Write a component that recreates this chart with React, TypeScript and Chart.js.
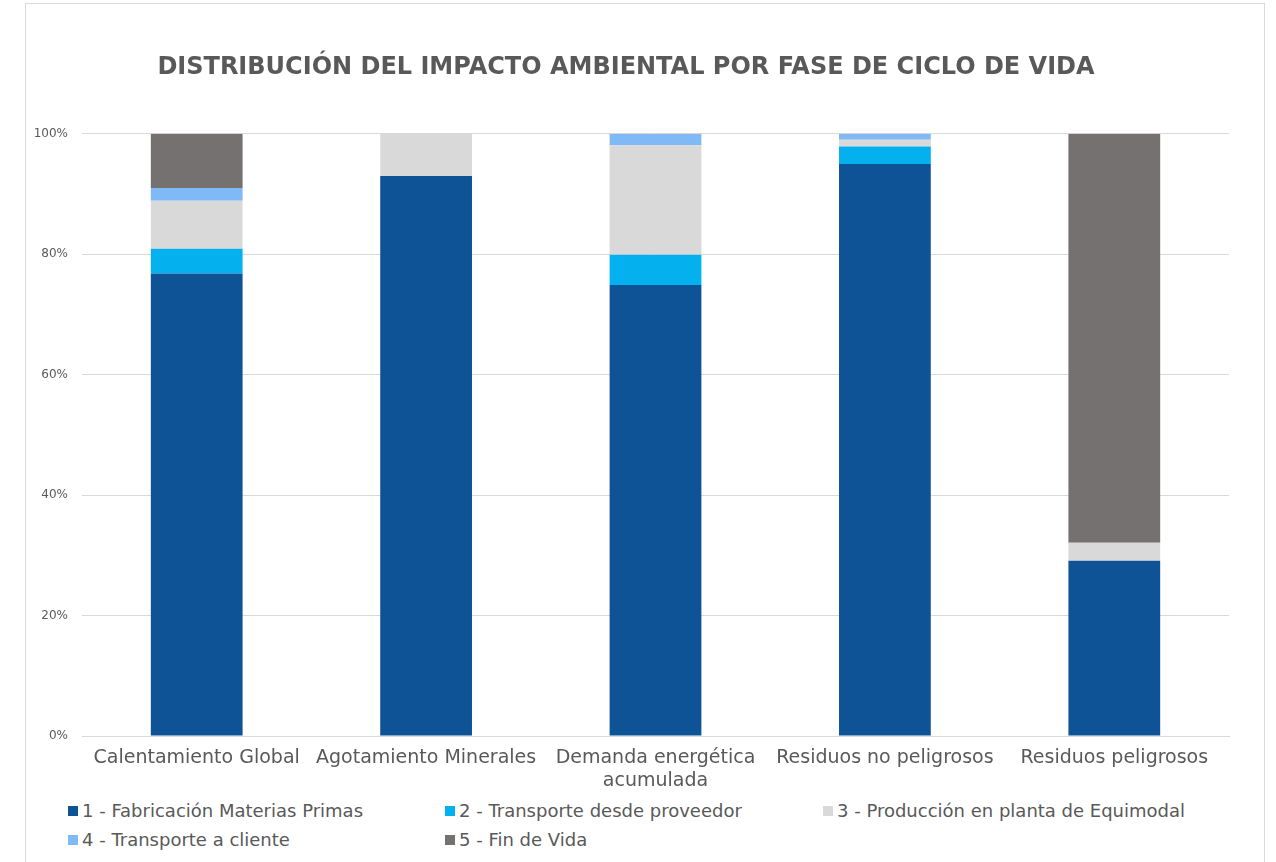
import React, { useEffect, useRef } from "react";
import { Chart, registerables } from "chart.js";

Chart.register(...registerables);

const categories: (string | string[])[] = [
  "Calentamiento Global",
  "Agotamiento Minerales",
  ["Demanda energética", "acumulada"],
  "Residuos no peligrosos",
  "Residuos peligrosos",
];

const seriesNames = [
  "1 - Fabricación Materias Primas",
  "2 - Transporte desde proveedor",
  "3 - Producción en planta de Equimodal",
  "4 - Transporte a cliente",
  "5 - Fin de Vida",
];

const fabricacion = [76.8, 93.0, 74.9, 95.0, 29.1];
const transporteProveedor = [4.1, 0, 5.0, 2.9, 0];
const produccion = [8.0, 7.0, 18.2, 1.1, 3.0];
const transporteCliente = [2.1, 0, 1.9, 1.0, 0];
const finVida = [9.0, 0, 0, 0, 67.9];

const yTicks = [0, 20, 40, 60, 80, 100];

const colors = ["#0E5396", "#05B0EF", "#D9D9D9", "#7FBAF6", "#767171"];
const seriesValues = [fabricacion, transporteProveedor, produccion, transporteCliente, finVida];

const FONT = "'DejaVu Sans', sans-serif";
const TEXT = "#595959";

export default function App() {
  const ref = useRef<HTMLCanvasElement | null>(null);

  useEffect(() => {
    if (!ref.current) return;
    const chart = new Chart(ref.current, {
      type: "bar",
      data: {
        labels: categories,
        datasets: seriesNames.map((name, i) => ({
          label: name,
          data: seriesValues[i],
          backgroundColor: colors[i],
          borderWidth: 0,
          barPercentage: 1,
          categoryPercentage: 0.4,
        })),
      },
      options: {
        responsive: false,
        animation: false,
        layout: { padding: { left: 23, right: 47, top: 0, bottom: 0 } },
        plugins: {
          legend: { display: false },
          tooltip: { enabled: false },
          title: {
            display: true,
            text: "DISTRIBUCIÓN DEL IMPACTO AMBIENTAL POR FASE DE CICLO DE VIDA",
            color: TEXT,
            font: { family: FONT, size: 24, weight: "bold" },
            padding: { top: 53, bottom: 52 },
          },
        },
        scales: {
          x: {
            stacked: true,
            grid: { display: false, drawTicks: false },
            border: { display: true, color: "#D9D9D9" },
            ticks: {
              color: TEXT,
              font: { family: FONT, size: 19 },
              padding: 11,
              maxRotation: 0,
              autoSkip: false,
            },
            afterFit: (s: any) => {
              s.height = 64;
            },
          },
          y: {
            stacked: true,
            min: 0,
            max: 100,
            afterBuildTicks: (s: any) => {
              s.ticks = yTicks.map((v) => ({ value: v }));
            },
            grid: { color: "#D9D9D9", drawTicks: false },
            border: { display: false },
            ticks: {
              color: TEXT,
              font: { family: FONT, size: 12 },
              padding: 14,
              callback: (v: any) => `${v}%`,
            },
            afterFit: (s: any) => {
              s.width = 59;
            },
          },
        },
      },
    });
    return () => chart.destroy();
  }, []);

  const legendPos = [
    { left: 68, top: 802 },
    { left: 445, top: 802 },
    { left: 823, top: 802 },
    { left: 68, top: 831 },
    { left: 445, top: 831 },
  ];

  return (
    <div style={{ position: "absolute", left: 0, top: 0, width: 1276, height: 862, overflow: "hidden", background: "#fff" }}>
      <div
        style={{
          position: "absolute",
          left: 25,
          top: 3,
          width: 1240,
          height: 900,
          border: "1px solid #D9D9D9",
          boxSizing: "border-box",
        }}
      />
      <canvas ref={ref} width={1276} height={800} style={{ position: "absolute", left: 0, top: 0 }} />
      {seriesNames.map((name, i) => (
        <div
          key={name}
          style={{
            position: "absolute",
            left: legendPos[i].left,
            top: legendPos[i].top,
            display: "flex",
            alignItems: "center",
            fontFamily: FONT,
            fontSize: 18,
            color: TEXT,
            whiteSpace: "nowrap",
            lineHeight: "18px",
          }}
        >
          <span style={{ display: "inline-block", width: 10, height: 10, background: colors[i], marginRight: 4 }} />
          {name}
        </div>
      ))}
    </div>
  );
}
